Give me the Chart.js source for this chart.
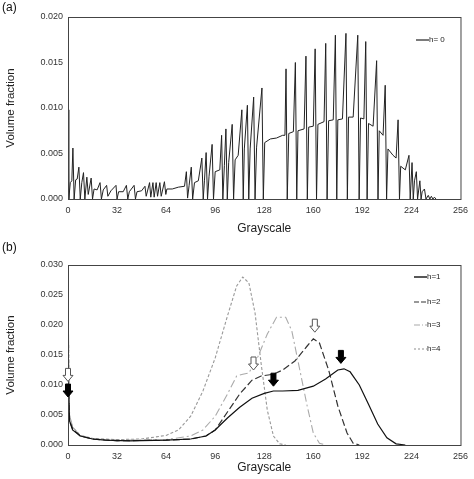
<!DOCTYPE html>
<html>
<head>
<meta charset="utf-8">
<script src="https://cdn.jsdelivr.net/npm/chart.js@4/dist/chart.umd.min.js"></script>
<style>
  body { margin: 0; background: #fff; }
  .box { position: absolute; left: 0; width: 474px; height: 240px; }
</style>
</head>
<body>
<div class="box" style="top:0"><canvas id="chartA"></canvas></div>
<div class="box" style="top:240px;height:239px"><canvas id="chartB"></canvas></div>
<script>
// (a) h = 0
var grayA = [0,0.5,1.5,2.5,3.2,4,5,6,7.1,8,9,10.1,11,12.3,13.2,15.1,16,17,19,20.9,21.8,23,25.2,26,28,31.3,32,33,36,38.1,39,40,43.1,44,45,48,50.2,51,53.2,54,55.4,56.2,57.5,58.4,59.9,60.8,62.9,63.8,64.5,68,72,76,77.2,78,79,80.4,81.3,82.5,85,87.3,88.2,89,90.1,91,92,94,94.9,96,99,100.2,101,102,103,103.9,104.8,107.1,108,109,111,113.4,114.3,115,117,117.9,118.8,121.1,122,123,126.5,127.4,128.3,132,136,140,141.5,142.2,143,144,147,148.3,149.2,150,154,155.2,156.1,157,160,161.2,162.1,163,167,168.1,169,170,173,174.4,175.3,176,179,181.3,182.2,183,186,189,189.9,190.8,193,194.2,195.1,196,199,201.3,202.2,203,205.5,206.9,207.8,208.7,212,214,215.3,216.2,217,220,222.4,223.2,224.4,225.2,226,227.2,228,229.5,230.3,231,232.5,233.5,235,236,237,238,239,240];
var volA = [0.0098,0,0.0018,0.002,0.0056,0,0.0021,0.0022,0.0035,0,0.0018,0.0029,0,0.0024,0.0005,0.0023,0,0.0011,0.001,0.0018,0,0.001,0.0015,0.0003,0.0009,0.0015,0,0.0008,0.0008,0.0015,0,0.0008,0.0015,0,0.0008,0.0009,0.0014,0.0003,0.0018,0.0002,0.0018,0.0002,0.0018,0.0003,0.0018,0.0003,0.0019,0.0005,0.0011,0.0011,0.0013,0.0014,0.003,0.0001,0.0015,0.0035,0,0.0018,0.002,0.0045,0,0.002,0.0051,0,0.0025,0.006,0,0.003,0.0032,0.007,0,0.0037,0.0077,0,0.004,0.0082,0,0.0043,0.0048,0.0098,0,0.0055,0.0103,0,0.0055,0.0112,0,0.0057,0.0122,0,0.0062,0.0066,0.0067,0.007,0.007,0.0143,0,0.0072,0.0074,0.015,0,0.0075,0.0077,0.0157,0,0.0079,0.008,0.0165,0,0.0082,0.0085,0.0171,0,0.0086,0.0087,0.018,0,0.0087,0.0088,0.0182,0,0.009,0.009,0.018,0,0.0089,0.0088,0.0173,0,0.0083,0.008,0.0152,0,0.0075,0.007,0.0125,0,0.0055,0.0048,0.0045,0.0087,0,0.0036,0.0032,0.0048,0,0.004,0,0.002,0.003,0,0.002,0,0.0008,0.0011,0,0.0004,0,0.0003,0,0.0002,0];

// (b) h = 1..4
var gray1 = [0,1,3,8,16,24,40,64,80,90,96,104,112,120,128,134,140,150,160,168,176,180,184,190,196,202,208,214,220];
var vol1 = [0.012,0.004,0.0025,0.0015,0.001,0.0008,0.0007,0.0008,0.001,0.0015,0.0025,0.0045,0.0063,0.0078,0.0086,0.009,0.009,0.0091,0.0098,0.011,0.0125,0.0127,0.0122,0.01,0.0068,0.0035,0.0012,0.0002,0];
var gray2 = [0,1,3,8,16,32,64,80,90,96,104,112,120,126,134,140,148,156,160,164,170,176,182,186,190];
var vol2 = [0.012,0.004,0.0027,0.0015,0.001,0.0007,0.0008,0.001,0.0015,0.0025,0.0055,0.0085,0.0108,0.0115,0.0118,0.0125,0.014,0.0165,0.0177,0.017,0.0125,0.0065,0.002,0.0003,0];
var gray3 = [0,1,3,8,16,32,64,80,88,96,104,110,114,118,124,130,136,142,146,150,156,160,164,168];
var vol3 = [0.025,0.005,0.003,0.0016,0.001,0.0008,0.0009,0.0015,0.0025,0.0048,0.0085,0.0115,0.0118,0.012,0.0148,0.0185,0.0213,0.0213,0.019,0.014,0.0065,0.002,0.0003,0];
var gray4 = [0,1,3,8,16,32,48,64,72,80,88,96,104,110,114,118,122,126,130,134,138,142];
var vol4 = [0.025,0.005,0.003,0.0016,0.0011,0.0009,0.001,0.0016,0.0025,0.0048,0.009,0.0145,0.0215,0.0265,0.028,0.027,0.022,0.0135,0.0058,0.0015,0.0002,0];

var openArrowX = [0, 121, 161];
var openArrowY = [0.0106, 0.0125, 0.0188];
var fillArrowX = [0, 134, 178];
var fillArrowY = [0.008, 0.0098, 0.0136];

var xTicks = [0, 32, 64, 96, 128, 160, 192, 224, 256];

function pts(xs, ys) {
  return xs.map(function(x, i) { return {x: x, y: ys[i]}; });
}

var font = 'Arial, "Liberation Sans", sans-serif';

// frame + inside legend + arrows
var extras = {
  id: 'extras',
  afterDatasetsDraw: function(chart, args, opts) {
    var c = chart.ctx, a = chart.chartArea;
    c.save();
    c.strokeStyle = '#444';
    c.lineWidth = 1;
    c.strokeRect(a.left + 0.5, a.top + 0.5, a.right - a.left, a.bottom - a.top);
    c.font = '8px ' + font;
    c.fillStyle = '#222';
    c.textBaseline = 'middle';
    opts.legend.forEach(function(l) {
      c.strokeStyle = l.color;
      c.lineWidth = l.width;
      c.setLineDash(l.dash);
      c.beginPath();
      c.moveTo(l.x, l.y);
      c.lineTo(l.x + 13, l.y);
      c.stroke();
      c.setLineDash([]);
      c.fillText(l.text, l.x + 13, l.y);
    });
    var xs = chart.scales.x, ys = chart.scales.y;
    function arrow(gx, gy, filled) {
      var px = xs.getPixelForValue(gx), py = ys.getPixelForValue(gy);
      c.beginPath();
      c.moveTo(px, py);
      c.lineTo(px - 5, py - 6);
      c.lineTo(px - 2.5, py - 6);
      c.lineTo(px - 2.5, py - 13);
      c.lineTo(px + 2.5, py - 13);
      c.lineTo(px + 2.5, py - 6);
      c.lineTo(px + 5, py - 6);
      c.closePath();
      c.lineWidth = 1;
      c.strokeStyle = filled ? '#000' : '#555';
      c.fillStyle = filled ? '#000' : '#fff';
      c.fill();
      c.stroke();
    }
    (opts.open || []).forEach(function(x, i) { arrow(x, openArrowY[i], false); });
    (opts.filled || []).forEach(function(x, i) { arrow(x, fillArrowY[i], true); });
    c.fillStyle = '#111';
    c.font = '12px ' + font;
    c.textBaseline = 'top';
    c.fillText(opts.tag, 2, 2);
    c.restore();
  }
};

function makeOptions(yMax, top, xH, extraOpts) {
  return {
    responsive: true,
    maintainAspectRatio: false,
    animation: false,
    layout: { padding: { left: 0, right: 10, top: top, bottom: 0 } },
    plugins: { legend: { display: false }, tooltip: { enabled: false }, extras: extraOpts },
    elements: { point: { radius: 0 }, line: { tension: 0 } },
    scales: {
      x: {
        type: 'linear', min: 0, max: 256,
        afterBuildTicks: function(s) { s.ticks = xTicks.map(function(v) { return {value: v}; }); },
        afterFit: function(s) { s.height = xH; },
        grid: { display: false, drawTicks: false },
        border: { display: false },
        ticks: { color: '#333', font: { size: 9, family: font }, padding: 6, maxRotation: 0 },
        title: { display: true, text: 'Grayscale', color: '#222', font: { size: 12, family: font }, padding: { top: 1 } }
      },
      y: {
        min: 0, max: yMax,
        afterFit: function(s) { s.width = 68; },
        grid: { display: false, drawTicks: false },
        border: { display: false },
        ticks: { stepSize: 0.005, color: '#333', font: { size: 9, family: font }, padding: 5,
          callback: function(v) { return v.toFixed(3); } },
        title: { display: true, text: 'Volume fraction', color: '#222', font: { size: 11.5, family: font }, padding: { bottom: 2 } }
      }
    }
  };
}

new Chart(document.getElementById('chartA'), {
  type: 'line',
  data: { datasets: [{ label: 'h= 0', data: pts(grayA, volA), borderColor: '#222', borderWidth: 1 }] },
  options: makeOptions(0.020, 17, 41, {
    tag: '(a)',
    legend: [{ text: 'h= 0', x: 416, y: 40, color: '#222', width: 1.2, dash: [] }]
  }),
  plugins: [extras]
});

new Chart(document.getElementById('chartB'), {
  type: 'line',
  data: { datasets: [
    { label: 'h=1', data: pts(gray1, vol1), borderColor: '#111', borderWidth: 1.2 },
    { label: 'h=2', data: pts(gray2, vol2), borderColor: '#333', borderWidth: 1.2, borderDash: [7, 3] },
    { label: 'h=3', data: pts(gray3, vol3), borderColor: '#aaa', borderWidth: 1.1, borderDash: [8, 3, 2, 3] },
    { label: 'h=4', data: pts(gray4, vol4), borderColor: '#999', borderWidth: 1.1, borderDash: [3, 2] }
  ] },
  options: makeOptions(0.030, 25, 34, {
    tag: '(b)',
    open: openArrowX,
    filled: fillArrowX,
    legend: [
      { text: 'h=1', x: 414, y: 37, color: '#111', width: 1.4, dash: [] },
      { text: 'h=2', x: 414, y: 62, color: '#333', width: 1.2, dash: [5, 2] },
      { text: 'h=3', x: 414, y: 85, color: '#aaa', width: 1.1, dash: [6, 2, 1, 2] },
      { text: 'h=4', x: 414, y: 109, color: '#999', width: 1.1, dash: [2, 2] }
    ]
  }),
  plugins: [extras]
});
</script>
</body>
</html>
